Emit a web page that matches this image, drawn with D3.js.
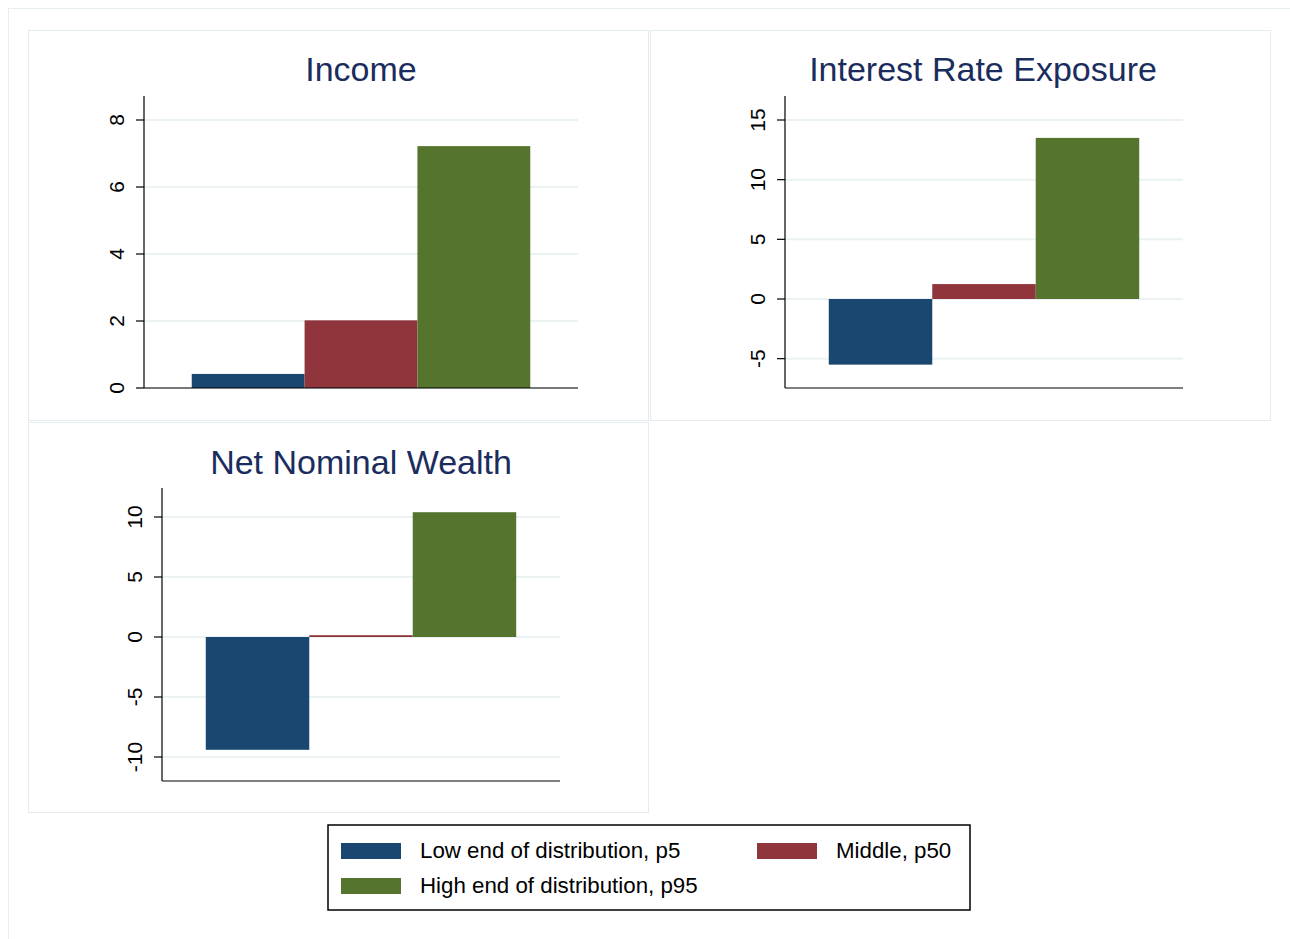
<!DOCTYPE html>
<html><head><meta charset="utf-8">
<script src="https://cdn.jsdelivr.net/npm/d3@7"></script>
<style>body{margin:0;background:#fff}text{font-family:"Liberation Sans",Arial,sans-serif}</style>
</head><body>
<svg id="c" width="1290" height="939"></svg>
<script>
var seriesNames = ["Low end of distribution, p5", "Middle, p50", "High end of distribution, p95"];
var colors = ["#1a476f", "#90353b", "#55752f"];
var incomeVals = [0.42, 2.02, 7.22];
var ireVals = [-5.5, 1.25, 13.5];
var nnwVals = [-9.4, 0.15, 10.4];
var incomeTicks = [0, 2, 4, 6, 8];
var ireTicks = [-5, 0, 5, 10, 15];
var nnwTicks = [-10, -5, 0, 5, 10];

var svg = d3.select("#c");
svg.append("rect").attr("x", 8.5).attr("y", 8.5).attr("width", 1290).attr("height", 940)
  .attr("fill", "none").attr("stroke", "#e6eef0");

var panels = [
  {title: "Income", vals: incomeVals, ticks: incomeTicks, box: [28, 30], ax: 144, top: 96, bot: 388, right: 578, dom: [0, 8], y0: 388, y1: 120, tx: 361, ty: 81},
  {title: "Interest Rate Exposure", vals: ireVals, ticks: ireTicks, box: [650, 30], ax: 785, top: 96, bot: 388, right: 1183, dom: [0, 15], y0: 299, y1: 120, tx: 983, ty: 81},
  {title: "Net Nominal Wealth", vals: nnwVals, ticks: nnwTicks, box: [28, 422], ax: 162, top: 488, bot: 781, right: 560, dom: [0, 10], y0: 637, y1: 517, tx: 361, ty: 474}
];

panels.forEach(function(p) {
  var g = svg.append("g");
  g.append("rect").attr("x", p.box[0] + 0.5).attr("y", p.box[1] + 0.5).attr("width", 620).attr("height", 390)
    .attr("fill", "none").attr("stroke", "#e3edf0");
  g.append("text").attr("x", p.tx).attr("y", p.ty).attr("text-anchor", "middle")
    .attr("font-size", 34).attr("fill", "#1a2d5e").text(p.title);
  var y = d3.scaleLinear().domain(p.dom).range([p.y0, p.y1]);
  var w = p.right - p.ax;
  var x = d3.scaleBand().domain([0, 1, 2]).range([p.ax + w * 0.11, p.right - w * 0.11]).padding(0);
  p.ticks.forEach(function(t) {
    g.append("line").attr("x1", p.ax).attr("x2", p.right).attr("y1", y(t)).attr("y2", y(t))
      .attr("stroke", "#eaf2f3").attr("stroke-width", 2);
    g.append("line").attr("x1", p.ax - 8).attr("x2", p.ax).attr("y1", y(t)).attr("y2", y(t))
      .attr("stroke", "#000").attr("stroke-width", 1.2);
    g.append("text").attr("transform", "translate(" + (p.ax - 20) + "," + y(t) + ") rotate(-90)")
      .attr("text-anchor", "middle").attr("font-size", 21).attr("fill", "#000").text(t);
  });
  g.selectAll(".bar").data(p.vals).enter().append("rect")
    .attr("x", function(d, i) { return x(i); }).attr("width", x.bandwidth())
    .attr("y", function(d) { return Math.min(y(d), y(0)); })
    .attr("height", function(d) { return Math.max(1.5, Math.abs(y(d) - y(0))); })
    .attr("fill", function(d, i) { return colors[i]; });
  g.append("line").attr("x1", p.ax).attr("x2", p.ax).attr("y1", p.top).attr("y2", p.bot).attr("stroke", "#000").attr("stroke-width", 1.2);
  g.append("line").attr("x1", p.ax).attr("x2", p.right).attr("y1", p.bot).attr("y2", p.bot).attr("stroke", "#000").attr("stroke-width", 1.2);
});

var lg = svg.append("g");
lg.append("rect").attr("x", 328).attr("y", 825).attr("width", 642).attr("height", 85)
  .attr("fill", "#fff").attr("stroke", "#000").attr("stroke-width", 1.5);
var lpos = [[341, 843], [757, 843], [341, 878]];
seriesNames.forEach(function(n, i) {
  lg.append("rect").attr("x", lpos[i][0]).attr("y", lpos[i][1]).attr("width", 60).attr("height", 16).attr("fill", colors[i]);
  lg.append("text").attr("x", lpos[i][0] + 79).attr("y", lpos[i][1] + 15).attr("font-size", 22.3).attr("fill", "#000").text(n);
});
</script>
</body></html>
